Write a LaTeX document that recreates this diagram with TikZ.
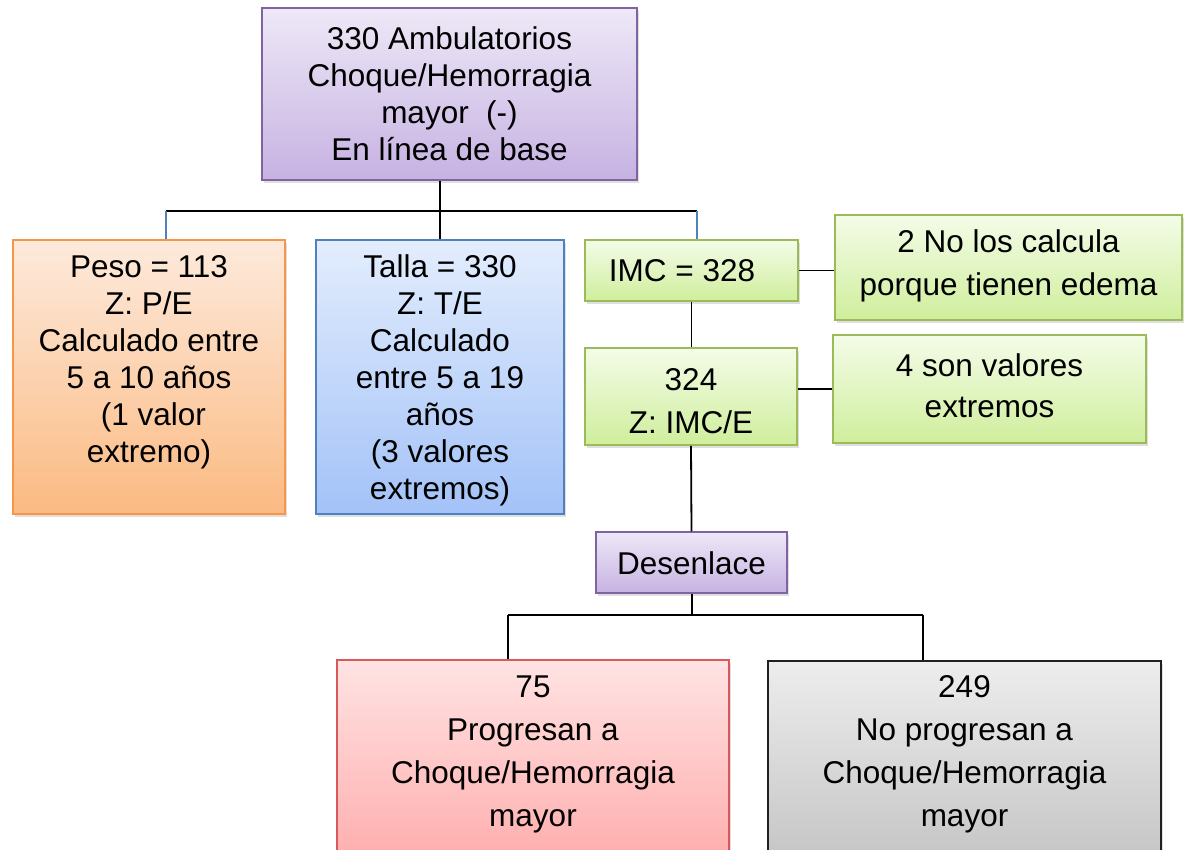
\documentclass[tikz,border=0pt]{standalone}
\usepackage{fontspec}
\setmainfont{Liberation Sans}
\usetikzlibrary{shadows}
\definecolor{purT}{HTML}{EEE8F7}
\definecolor{purB}{HTML}{C6B2E2}
\definecolor{purD}{HTML}{8064A2}
\definecolor{orT}{HTML}{FDEADC}
\definecolor{orB}{HTML}{FBBA82}
\definecolor{orD}{HTML}{F79646}
\definecolor{blT}{HTML}{E3EDFD}
\definecolor{blB}{HTML}{A3C2F8}
\definecolor{blD}{HTML}{4F81BD}
\definecolor{grT}{HTML}{F4FCE8}
\definecolor{grB}{HTML}{CFEE9C}
\definecolor{grD}{HTML}{9BBB59}
\definecolor{rdT}{HTML}{FFE3E3}
\definecolor{rdB}{HTML}{FFA3A3}
\definecolor{rdD}{HTML}{D9595A}
\definecolor{gyT}{HTML}{EDEDED}
\definecolor{gyB}{HTML}{BDBDBD}
\definecolor{gyD}{HTML}{202020}
\begin{document}
\begin{tikzpicture}[x=1pt,y=-1pt,
  box/.style={line width=1.5pt, inner sep=0pt, align=center,
    drop shadow={shadow xshift=2pt, shadow yshift=-3pt, opacity=0.25}},
  purbox/.style={box, draw=purD, top color=purT, bottom color=purB},
  orbox/.style={box, draw=orD, top color=orT, bottom color=orB},
  blbox/.style={box, draw=blD, top color=blT, bottom color=blB},
  grbox/.style={box, draw=grD, top color=grT, bottom color=grB},
  rdbox/.style={box, draw=rdD, top color=rdT, bottom color=rdB},
  gybox/.style={box, draw=gyD, top color=gyT, bottom color=gyB},
  txt/.style={align=center, inner sep=0pt, font=\fontsize{31.5}{37}\selectfont},
  txtw/.style={align=center, inner sep=0pt, font=\fontsize{31.5}{43}\selectfont},
  conn/.style={draw=black, line width=1.8pt},
  bconn/.style={draw=blD, line width=1.8pt}]
\clip (0,0) rectangle (1186,849);
\fill[white] (0,0) rectangle (1186,849);

% boxes
\node[purbox, minimum width=375pt, minimum height=172pt] (top) at (449.5,94) {};
\node[txt] (topT) at (449.5,94) {330 Ambulatorios\\Choque/Hemorragia\\mayor\ \ (-)\\En línea de base};

\node[orbox, minimum width=272pt, minimum height=274pt] (peso) at (149,377) {};
\node[txt] (pesoT) at (149,362) {Peso = 113\\Z: P/E\\Calculado entre\\5 a 10 años\\\ (1 valor\\extremo)};

\node[blbox, minimum width=248pt, minimum height=274pt] (talla) at (440,377) {};
\node[txt] (tallaT) at (440,380) {Talla = 330\\Z: T/E\\Calculado\\entre 5 a 19\\años\\(3 valores\\extremos)};

\node[grbox, minimum width=213pt, minimum height=61pt] (imc) at (691.5,270.5) {};
\node[txt] (imcT) at (682,271) {IMC = 328};

\node[grbox, minimum width=347pt, minimum height=105pt] (no2) at (1008.5,267.5) {};
\node[txtw] (no2T) at (1008.5,266) {2 No los calcula\\porque tienen edema};

\node[grbox, minimum width=212pt, minimum height=97pt] (z324) at (691,396.5) {};
\node[txtw] (z324T) at (691,401) {324\\Z: IMC/E};

\node[grbox, minimum width=313pt, minimum height=108pt] (son4) at (989.5,389) {};
\node[txtw, font=\fontsize{31.5}{41}\selectfont] (son4T) at (989.5,386) {4 son valores\\extremos};

\node[purbox, minimum width=191pt, minimum height=61pt] (des) at (691.5,562.5) {};
\node[txt] (desT) at (691.5,563) {Desenlace};

\node[rdbox, minimum width=392pt, minimum height=240pt] (p75) at (533,780) {};
\node[txtw] (p75T) at (533,754) {75\\Progresan a\\Choque/Hemorragia\\mayor};

\node[gybox, minimum width=393pt, minimum height=240pt] (p249) at (964.5,781) {};
\node[txtw] (p249T) at (964.5,754) {249\\No progresan a\\Choque/Hemorragia\\mayor};

% connectors
\coordinate (j1) at (440,211);
\coordinate (hl) at (166,211);
\coordinate (hr) at (697,211);
\draw[conn] (top.south -| j1) -- (j1);
\draw[conn] (hl) -- (hr);
\draw[bconn] (hl) -- (peso.north -| hl);
\draw[conn] (j1) -- (talla.north -| j1);
\draw[bconn] (hr) -- (imc.north -| hr);
\draw[conn] (imc.east) -- (no2.west |- imc.east);
\draw[conn] (imc.south) -- (imc.south |- z324.north);
\draw[conn] (z324.east |- son4.west) -- (son4.west);
\draw[conn] (z324.south) -- (des.north);
\coordinate (j2) at (692,615);
\coordinate (bl) at (508,615);
\coordinate (br) at (923,615);
\draw[conn] (des.south -| j2) -- (j2);
\draw[conn] (bl) -- (br);
\draw[conn] (bl) -- (p75.north -| bl);
\draw[conn] (br) -- (p249.north -| br);
\end{tikzpicture}
\end{document}
